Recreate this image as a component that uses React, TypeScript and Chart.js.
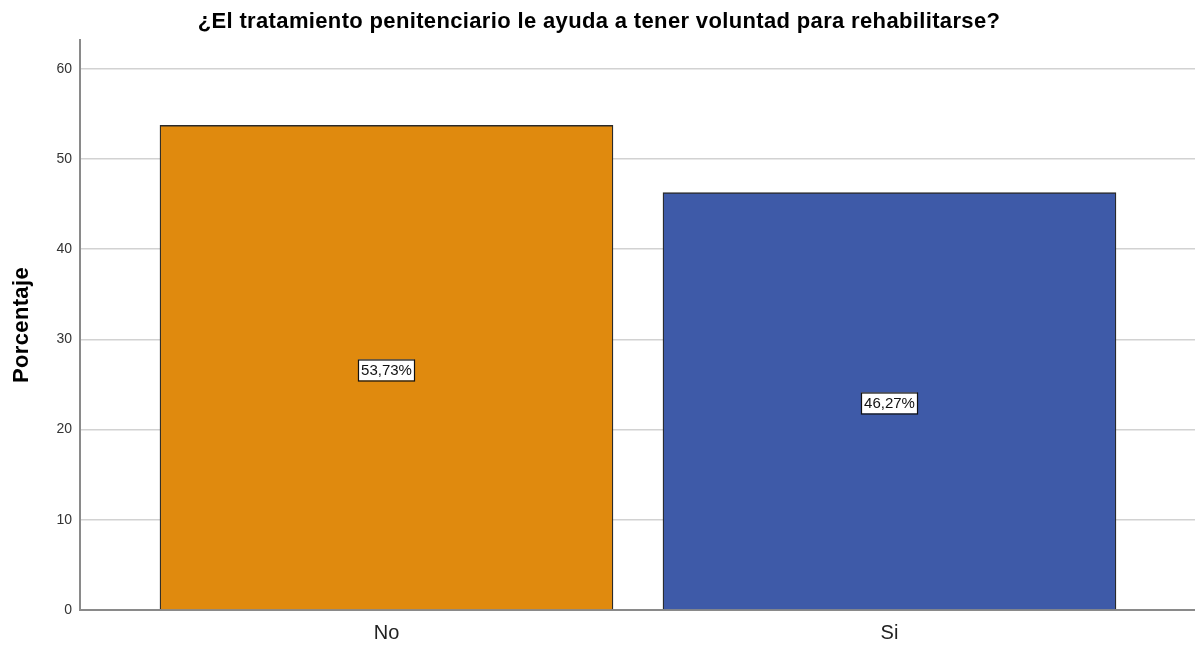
import React, { useEffect, useRef } from "react";
import { Chart, registerables } from "chart.js";

Chart.register(...registerables);

const categories = ["No", "Si"];
const percentages = [53.73, 46.27];
const valueLabels = ["53,73%", "46,27%"];
const barColors = ["#E08A0E", "#3E5AA8"];
const yTickValues = [0, 10, 20, 30, 40, 50, 60];
const titleText = "¿El tratamiento penitenciario le ayuda a tener voluntad para rehabilitarse?";
const yAxisTitle = "Porcentaje";

const FONT = "'Liberation Sans', Arial, Helvetica, sans-serif";

const overlayPlugin = {
  id: "overlay",
  afterDatasetsDraw(chart: any) {
    const ctx = chart.ctx as CanvasRenderingContext2D;
    const meta = chart.getDatasetMeta(0);
    const yScale = chart.scales.y;
    ctx.save();
    ctx.font = `15px ${FONT}`;
    ctx.textAlign = "center";
    ctx.textBaseline = "middle";
    meta.data.forEach((bar: any, i: number) => {
      const x = Math.round(bar.x);
      const y = Math.round(yScale.getPixelForValue(percentages[i] / 2)) + 2;
      const label = valueLabels[i];
      const w = Math.round(ctx.measureText(label).width) + 5;
      const h = 21;
      ctx.fillStyle = "#ffffff";
      ctx.fillRect(x - w / 2, y - h / 2, w, h);
      ctx.strokeStyle = "#111";
      ctx.lineWidth = 1.2;
      ctx.strokeRect(x - w / 2 + 0.5, y - h / 2 + 0.5, w, h);
      ctx.fillStyle = "#111";
      ctx.fillText(label, x + 0.5, y + 1);
    });
    ctx.restore();

    ctx.save();
    ctx.fillStyle = "#000";
    ctx.textAlign = "center";
    ctx.textBaseline = "middle";
    ctx.font = `bold 22px ${FONT}`;
    (ctx as any).letterSpacing = "0.35px";
    ctx.fillText(titleText, 599, 22);
    const area = chart.chartArea;
    ctx.translate(22, (area.top + area.bottom) / 2);
    ctx.rotate(-Math.PI / 2);
    ctx.fillText(yAxisTitle, 0, 0);
    ctx.restore();
  },
};

export default function App() {
  const canvasRef = useRef<HTMLCanvasElement | null>(null);

  useEffect(() => {
    document.body.style.margin = "0";
    const canvas = canvasRef.current;
    if (!canvas) return;
    const chart = new Chart(canvas, {
      type: "bar",
      data: {
        datasets: [
          {
            data: percentages.map((v, i) => ({ x: i, y: v })),
            backgroundColor: barColors,
            borderColor: "#2a2a2a",
            borderWidth: 1.3,
            barThickness: 453,
          } as any,
        ],
      },
      options: {
        responsive: false,
        animation: false,
        layout: { padding: { top: 40, left: 0, right: 0, bottom: 0 } },
        plugins: {
          legend: { display: false },
          title: { display: false },
          tooltip: { enabled: false },
        },
        scales: {
          x: {
            type: "linear",
            min: -0.6093,
            max: 1.6074,
            offset: false,
            grid: { display: false, offset: false, drawTicks: false },
            border: { display: true, color: "#8a8a8a", width: 2 },
            afterBuildTicks: (s: any) => {
              s.ticks = categories.map((_, i) => ({ value: i }));
            },
            afterFit: (s: any) => {
              s.height = 35;
            },
            ticks: {
              autoSkip: false,
              maxRotation: 0,
              padding: 11,
              color: "#222",
              font: { size: 20, family: FONT },
              callback: (v: any) => categories[Number(v)] ?? "",
            },
          } as any,
          y: {
            type: "linear",
            min: 0,
            max: 63.2,
            grid: { color: "#d2d2d2", lineWidth: 1.5, drawTicks: false },
            border: { display: true, color: "#8a8a8a", width: 2 },
            afterBuildTicks: (s: any) => {
              s.ticks = yTickValues.map((v) => ({ value: v }));
            },
            afterFit: (s: any) => {
              s.width = 80;
            },
            ticks: {
              padding: 8,
              color: "#333",
              font: { size: 14, family: FONT },
            },
          } as any,
        },
      },
      plugins: [overlayPlugin],
    });
    return () => chart.destroy();
  }, []);

  return (
    <div style={{ position: "absolute", left: 0, top: 0, width: 1195, height: 645 }}>
      <canvas ref={canvasRef} width={1195} height={645} style={{ display: "block" }} />
    </div>
  );
}
